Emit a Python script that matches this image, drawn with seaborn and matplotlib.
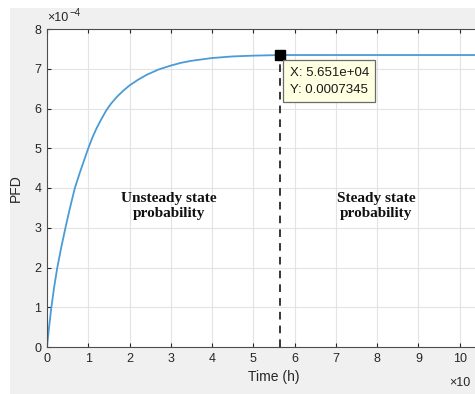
import matplotlib
matplotlib.use('Agg')
import matplotlib.pyplot as plt
from matplotlib.patches import Rectangle
import seaborn as sns
import pandas as pd

# time in units of 1e4 h, PFD in units of 1e-4
time_h = [0, 0.05, 0.106, 0.175, 0.25, 0.35, 0.447, 0.55, 0.675, 0.8, 0.9, 1.0, 1.1, 1.2, 1.3,
          1.44, 1.55, 1.7, 1.85, 2.0, 2.2, 2.42, 2.7, 3.0, 3.25, 3.5, 4.0, 4.5, 5.0, 5.651,
          6.0, 7.0, 8.0, 9.0, 10.0, 11.0]
pfd = [0, 0.5, 1.0, 1.52, 2.0, 2.53, 3.0, 3.47, 4.0, 4.4, 4.7, 5.0, 5.27, 5.5, 5.7,
       5.96, 6.12, 6.3, 6.45, 6.58, 6.72, 6.85, 6.98, 7.08, 7.15, 7.2, 7.27, 7.31, 7.33, 7.345,
       7.345, 7.345, 7.345, 7.345, 7.345, 7.345]
tip_x = 5.651
tip_y = 7.345
xticks = list(range(0, 11))
yticks = list(range(0, 9))

df = pd.DataFrame({'Time': time_h, 'PFD': pfd})

sns.set_theme(style='white')
plt.rcParams['font.family'] = ['Liberation Sans', 'DejaVu Sans']

fig = plt.figure(figsize=(4.75, 3.94), dpi=100)
fig.patch.set_facecolor('white')
# grey matlab figure background
fig.patches.append(Rectangle((10 / 475, 0), 1, 1 - 8 / 394, transform=fig.transFigure,
                             facecolor='#f0f0f0', edgecolor='none', zorder=-10))

ax = fig.add_axes([47 / 475, 47 / 394, 454 / 475, 318 / 394])
ax.set_facecolor('white')
sns.lineplot(data=df, x='Time', y='PFD', ax=ax, color='#4b9bd6', linewidth=1.3)

ax.set_xlim(0, 11)
ax.set_ylim(0, 8)
ax.set_xticks(xticks)
ax.set_yticks(yticks)
ax.set_xticklabels([str(t) for t in xticks])
ax.grid(True, color='#e3e3e3', linewidth=0.8)
ax.tick_params(direction='in', length=3, width=0.8, colors='#262626', labelsize=9,
               top=True, bottom=True, left=True, right=False, pad=4)
for s in ax.spines.values():
    s.set_color('#4d4d4d')
    s.set_linewidth(0.8)
ax.spines['right'].set_visible(False)

ax.set_xlabel('Time (h)', fontsize=10, color='#262626', labelpad=4)
ax.set_ylabel('PFD', fontsize=10, color='#262626', labelpad=8)

# datatip
ax.plot([tip_x, tip_x], [0, tip_y], color='black', linestyle=(0, (5, 4)), linewidth=1.1)
ax.plot([tip_x], [tip_y], marker='s', color='black', markersize=6.5)
ax.text(5.877, 7.05, 'X: 5.651e+04\nY: 0.0007345', fontsize=9.5,
        color='#1a1a1a', linespacing=1.55, va='top', ha='left',
        bbox=dict(boxstyle='square,pad=0.5', facecolor='#ffffe1', edgecolor='#6b6b6b', linewidth=0.9))

ax.text(2.95, 3.55, 'Unsteady state\nprobability', family=['Liberation Serif'], fontweight='bold',
        fontsize=11, ha='center', va='center', color='#111111', linespacing=1.2)
ax.text(7.97, 3.55, 'Steady state\nprobability', family=['Liberation Serif'], fontweight='bold',
        fontsize=11, ha='center', va='center', color='#111111', linespacing=1.2)

# exponent labels
fig.text(47 / 475, 1 - 18 / 394, '×10', fontsize=9, color='#262626', va='center', ha='left')
fig.text(69 / 475, 1 - 13 / 394, '−4', fontsize=7, color='#262626', va='center', ha='left')
fig.text(449 / 475, 1 - 383 / 394, '×10', fontsize=9, color='#262626', va='center', ha='left')

fig.savefig('out.png', dpi=100, facecolor=fig.get_facecolor())
